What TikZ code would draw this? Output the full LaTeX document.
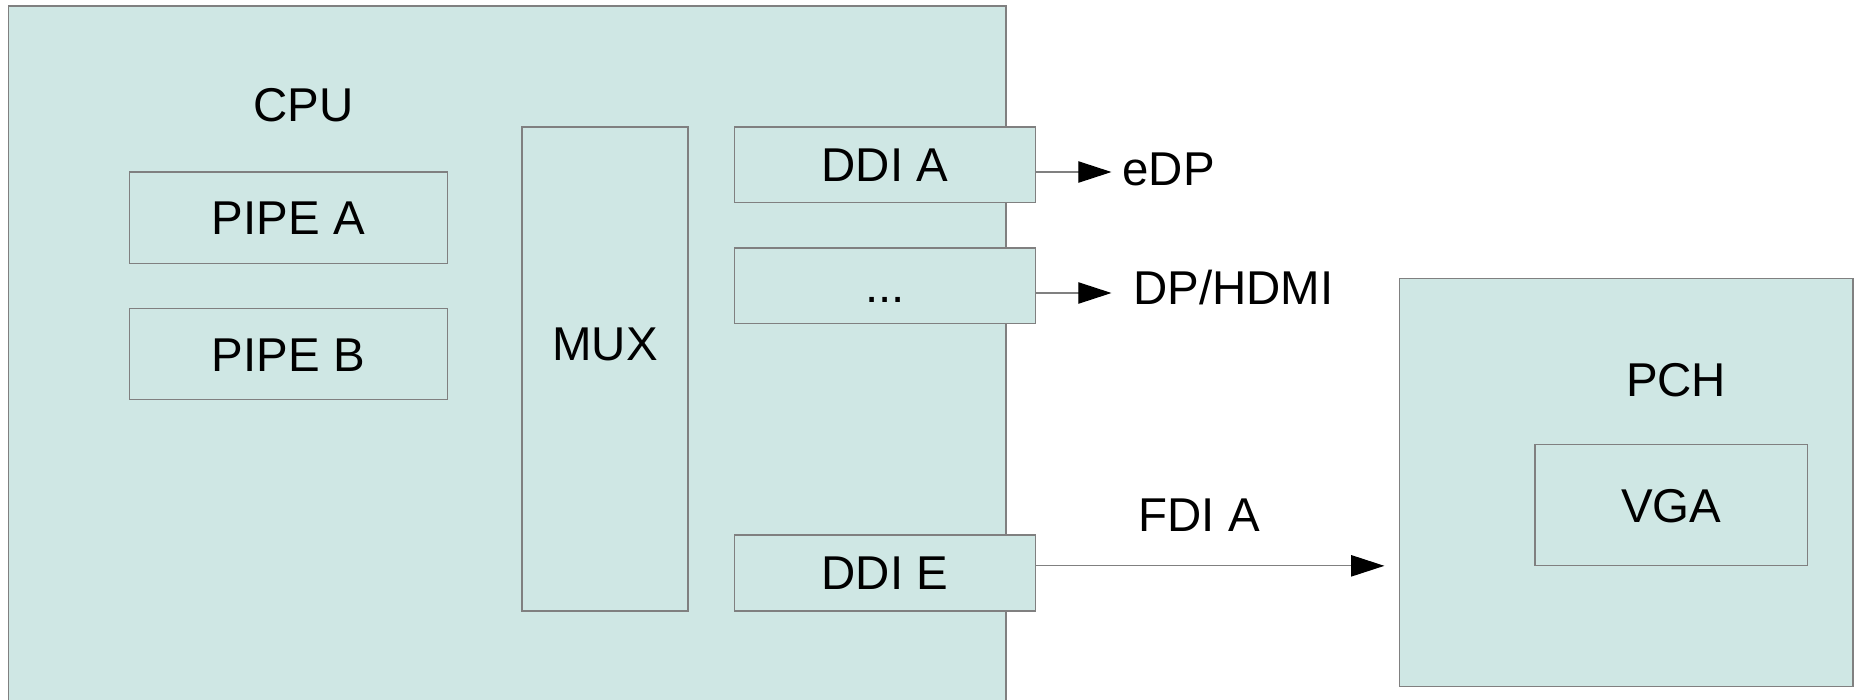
\documentclass[tikz,border=0pt]{standalone}
\usepackage{fontspec}
\setmainfont{Liberation Sans}
\usetikzlibrary{arrows.meta}
\definecolor{boxfill}{RGB}{207,231,228}
\definecolor{boxline}{RGB}{128,128,128}
\begin{document}
\begin{tikzpicture}[x=1pt,y=-1pt,
  blk/.style={draw=boxline,fill=boxfill,line width=1pt,inner sep=0pt,text height=28.5pt,text depth=0pt,font=\fontsize{40}{48}\selectfont},
  lbl/.style={inner sep=0pt,anchor=base,font=\fontsize{40}{48}\selectfont},
  arr/.style={draw=boxline,line width=1pt,-{Triangle[length=28pt,width=18pt,color=black]}}]
\useasboundingbox (0,0) rectangle (1568,590);
\clip (0,0) rectangle (1568,590);
% containers
\node[blk,minimum width=841pt,minimum height=620pt] (cpu) at (427.5,315) {};
\node[lbl] (cpulbl) at (256,102) {CPU};
\node[blk,minimum width=382pt,minimum height=344pt] (pch) at (1371,407) {};
\node[lbl] (pchlbl) at (1413,334) {PCH};
% inner blocks
\node[blk,minimum width=268pt,minimum height=77pt] (pipea) at (243,183.5) {PIPE A};
\node[blk,minimum width=268pt,minimum height=77pt] (pipeb) at (243,298.5) {PIPE B};
\node[blk,minimum width=140pt,minimum height=408pt] (mux) at (510,311) {};
\node[lbl] (muxlbl) at (510,304) {MUX};
\node[blk,minimum width=254pt,minimum height=64pt] (ddia) at (746,139) {DDI A};
\node[blk,minimum width=254pt,minimum height=64pt] (ddidots) at (746,241) {...};
\node[blk,minimum width=254pt,minimum height=64pt] (ddie) at (746,483) {DDI E};
\node[blk,minimum width=230pt,minimum height=102pt] (vga) at (1409,426) {VGA};
% outputs
\node[lbl,anchor=base west] (edp) at (946,156) {eDP};
\node[lbl,anchor=base west] (dphdmi) at (955,257) {DP/HDMI};
\node[lbl] (fdia) at (1011,448) {FDI A};
\coordinate (edpin) at (937,145);
\coordinate (dpin) at (937,247);
\coordinate (fdiin) at (1167,477);
\draw[arr] (ddia.east |- edpin) -- (edpin);
\draw[arr] (ddidots.east |- dpin) -- (dpin);
\draw[arr] (ddie.east |- fdiin) -- (fdiin);
\end{tikzpicture}
\end{document}
